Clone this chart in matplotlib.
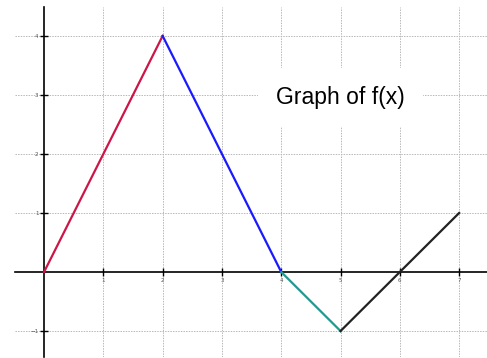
import matplotlib.pyplot as plt

# piecewise segments of f(x)
seg_x = [[0, 2], [2, 4], [4, 5], [5, 7]]
seg_y = [[0, 4], [4, 0], [0, -1], [-1, 1]]
seg_colors = ['#cc1648', '#1a1aff', '#209990', '#222222']

xticks = [1, 2, 3, 4, 5, 6, 7]
yticks = [-1, 1, 2, 3, 4]

W, H = 487, 358
fig = plt.figure(figsize=(W / 100, H / 100), dpi=100)
ax = fig.add_axes([15 / W, 1 / H, 472 / W, 350 / H])

ax.set_xlim(-0.49, 7.47)
ax.set_ylim(-1.44, 4.49)

ax.spines['left'].set_position(('data', 0))
ax.spines['bottom'].set_position(('data', 0))
ax.spines['right'].set_visible(False)
ax.spines['top'].set_visible(False)
for s in ['left', 'bottom']:
    ax.spines[s].set_linewidth(1.2)
    ax.spines[s].set_zorder(1)

ax.set_xticks(xticks)
ax.set_yticks(yticks)
ax.tick_params(direction='inout', length=6, width=1, labelsize=4, pad=1,
               colors='black', labelcolor='#555555')
ax.grid(True, color='#b8b8b8', linestyle='--', linewidth=0.7, dashes=(1.5, 1.2))
ax.set_axisbelow(True)

for xs, ys, c in zip(seg_x, seg_y, seg_colors):
    ax.plot(xs, ys, color=c, linewidth=1.6, zorder=3)

ax.text(5, 2.96, 'Graph of f(x)', fontsize=16.5, family='Liberation Sans',
        ha='center', va='center', zorder=4,
        bbox=dict(facecolor='white', edgecolor='none', pad=13))

fig.savefig('out.png', dpi=100)
